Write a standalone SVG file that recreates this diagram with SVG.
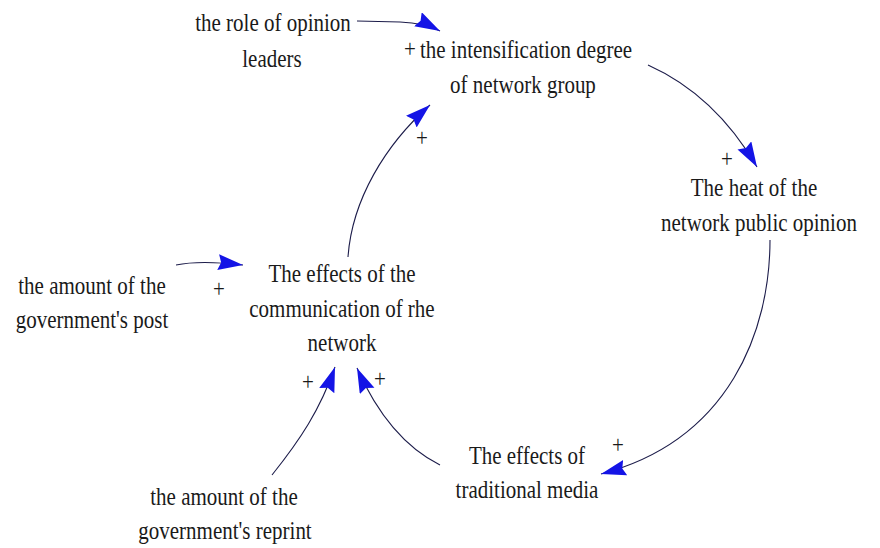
<svg xmlns="http://www.w3.org/2000/svg" width="880" height="548" viewBox="0 0 880 548">
<style>
.t{font-family:"Liberation Serif","Times New Roman",serif;font-size:21px;fill:#1a1a1a;text-anchor:middle}
.c{fill:none;stroke:#1c1c4a;stroke-width:1.1}
</style>
<defs>
<marker id="ah" markerUnits="userSpaceOnUse" markerWidth="28" markerHeight="18" refX="25" refY="8" orient="auto" viewBox="0 0 28 18">
<path d="M0,0 L25,8 L0,16 L3,8 z" fill="#1414e6"/>
</marker>
</defs>
<rect width="880" height="548" fill="#ffffff"/>
<g id="connectors">
<path class="c" marker-end="url(#ah)" d="M357,21 L400,22 Q425,23 440,31"/>
<path class="c" marker-end="url(#ah)" d="M348,257 C352,200 385,145 430,105"/>
<path class="c" marker-end="url(#ah)" d="M648,65 Q715,95 757,167"/>
<path class="c" marker-end="url(#ah)" d="M770,240 C770,330 730,440 601,474"/>
<path class="c" marker-end="url(#ah)" d="M440,465 C410,450 380,420 357,368"/>
<path class="c" marker-end="url(#ah)" d="M272,475 C300,440 320,410 335,367"/>
<path class="c" marker-end="url(#ah)" d="M176,265 Q200,260 243,265"/>
</g>
<g id="polarities" transform="scale(1,1.2)">
<text class="t" x="410" y="47.5">+</text>
<text class="t" x="422" y="121.7">+</text>
<text class="t" x="727" y="139.2">+</text>
<text class="t" x="219" y="247.5">+</text>
<text class="t" x="308" y="325">+</text>
<text class="t" x="380" y="322.5">+</text>
<text class="t" x="618" y="377.5">+</text>
</g>
<g id="role" transform="scale(1,1.2)">
<text class="t" x="273" y="25.8">the role of opinion</text>
<text class="t" x="272" y="55.8">leaders</text>
</g>
<g id="intensification" transform="scale(1,1.2)">
<text class="t" x="526" y="48.3">the intensification degree</text>
<text class="t" x="523" y="77.5">of network group</text>
</g>
<g id="heat" transform="scale(1,1.2)">
<text class="t" x="754" y="163.3">The heat of the</text>
<text class="t" x="759" y="192.5">network public opinion</text>
</g>
<g id="communication" transform="scale(1,1.2)">
<text class="t" x="342" y="235">The effects of the</text>
<text class="t" x="342" y="264.2">communication of rhe</text>
<text class="t" x="342" y="292.5">network</text>
</g>
<g id="post" transform="scale(1,1.2)">
<text class="t" x="92" y="245">the amount of the</text>
<text class="t" x="92" y="273.3">government's post</text>
</g>
<g id="traditional" transform="scale(1,1.2)">
<text class="t" x="527" y="386.7">The effects of</text>
<text class="t" x="527" y="415">traditional media</text>
</g>
<g id="reprint" transform="scale(1,1.2)">
<text class="t" x="224" y="420.8">the amount of the</text>
<text class="t" x="225" y="449.2">government's reprint</text>
</g>
</svg>
